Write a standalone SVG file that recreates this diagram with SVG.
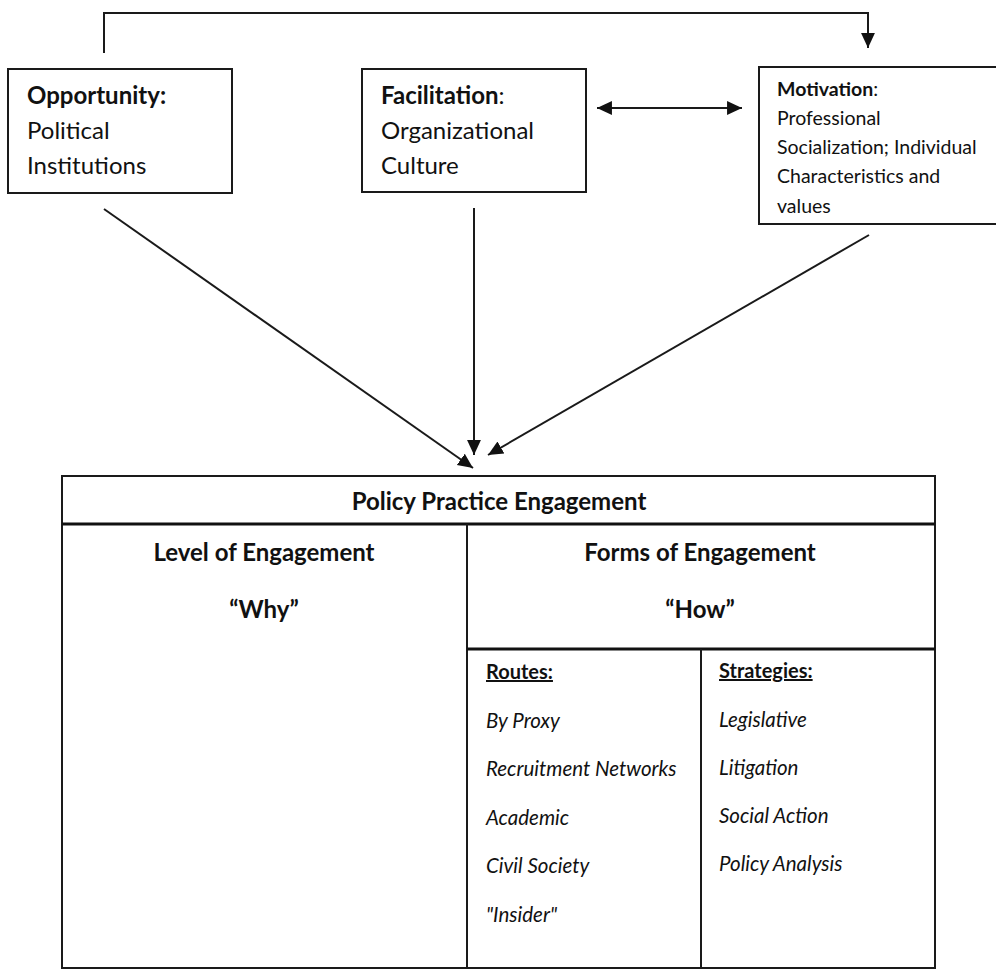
<svg xmlns="http://www.w3.org/2000/svg" width="996" height="970" viewBox="0 0 996 970">
  <style>
    text { font-family: Lato, "Open Sans", "Liberation Sans", sans-serif; fill: #111; }
    .box { fill: #fff; stroke: #1a1a1a; stroke-width: 2; }
    .rule { stroke: #1a1a1a; stroke-width: 2; fill: none; }
    .heavy { stroke: #111; stroke-width: 3; fill: none; }
    .conn { stroke: #1a1a1a; stroke-width: 2; fill: none; }
    .t-main { font-size: 24px; }
    .t-small { font-size: 19.5px; }
    .t-head { font-size: 24px; font-weight: bold; text-anchor: middle; }
    .t-list { font-size: 20.5px; font-style: italic; }
    .t-label { font-size: 20px; font-weight: bold; text-decoration: underline; }
  </style>
  <defs>
    <marker id="arrow" markerUnits="userSpaceOnUse" markerWidth="16" markerHeight="16" refX="14" refY="6.5" orient="auto-start-reverse" viewBox="0 0 15 13">
      <path d="M0,0 L14,6.5 L0,13 Z" fill="#111"/>
    </marker>
  </defs>

  <rect width="996" height="970" fill="#fff"/>

  <!-- connectors -->
  <g id="connectors">
    <path class="conn" d="M104,53 V13 H868 V48" marker-end="url(#arrow)"/>
    <line class="conn" x1="597" y1="108" x2="742" y2="108" marker-start="url(#arrow)" marker-end="url(#arrow)"/>
    <line class="conn" x1="104" y1="209" x2="473" y2="468" marker-end="url(#arrow)"/>
    <line class="conn" x1="474" y1="208" x2="474" y2="455" marker-end="url(#arrow)"/>
    <line class="conn" x1="869" y1="235" x2="488" y2="455" marker-end="url(#arrow)"/>
  </g>

  <!-- Opportunity -->
  <g id="opportunity">
    <rect class="box" x="8" y="69" width="224" height="124"/>
    <text class="t-main" x="27" y="104"><tspan font-weight="bold">Opportunity:</tspan></text>
    <text class="t-main" x="27" y="139">Political</text>
    <text class="t-main" x="27" y="174">Institutions</text>
  </g>

  <!-- Facilitation -->
  <g id="facilitation">
    <rect class="box" x="362" y="69" width="224" height="123"/>
    <text class="t-main" x="381" y="104"><tspan font-weight="bold">Facilitation</tspan>:</text>
    <text class="t-main" x="381" y="139">Organizational</text>
    <text class="t-main" x="381" y="174">Culture</text>
  </g>

  <!-- Motivation (box runs off the right edge) -->
  <g id="motivation">
    <rect class="box" x="759" y="67" width="250" height="157"/>
    <text class="t-small" x="777" y="96"><tspan font-weight="bold">Motivation</tspan>:</text>
    <text class="t-small" x="777" y="125">Professional</text>
    <text class="t-small" x="777" y="154">Socialization; Individual</text>
    <text class="t-small" x="777" y="183">Characteristics and</text>
    <text class="t-small" x="777" y="213">values</text>
  </g>

  <!-- Policy Practice Engagement table -->
  <g id="engagement">
    <rect class="box" x="62" y="476" width="873" height="492"/>
    <line class="heavy" x1="62" y1="524" x2="935" y2="524"/>
    <line class="rule" x1="467" y1="524" x2="467" y2="968"/>
    <line class="heavy" x1="467" y1="649" x2="935" y2="649"/>
    <line class="rule" x1="701" y1="649" x2="701" y2="968"/>
    <text class="t-head" x="499" y="510">Policy Practice Engagement</text>
    <text class="t-head" x="264" y="561">Level of Engagement</text>
    <text class="t-head" x="264" y="618">“Why”</text>
    <text class="t-head" x="700" y="561">Forms of Engagement</text>
    <text class="t-head" x="700" y="618">“How”</text>
  </g>

  <g id="routes">
    <text class="t-label" x="486" y="679">Routes:</text>
    <text class="t-list" x="486" y="728">By Proxy</text>
    <text class="t-list" x="486" y="776">Recruitment Networks</text>
    <text class="t-list" x="486" y="825">Academic</text>
    <text class="t-list" x="486" y="873">Civil Society</text>
    <text class="t-list" x="486" y="922">"Insider"</text>
  </g>

  <g id="strategies">
    <text class="t-label" x="719" y="678">Strategies:</text>
    <text class="t-list" x="719" y="727">Legislative</text>
    <text class="t-list" x="719" y="775">Litigation</text>
    <text class="t-list" x="719" y="823">Social Action</text>
    <text class="t-list" x="719" y="871">Policy Analysis</text>
  </g>
</svg>
